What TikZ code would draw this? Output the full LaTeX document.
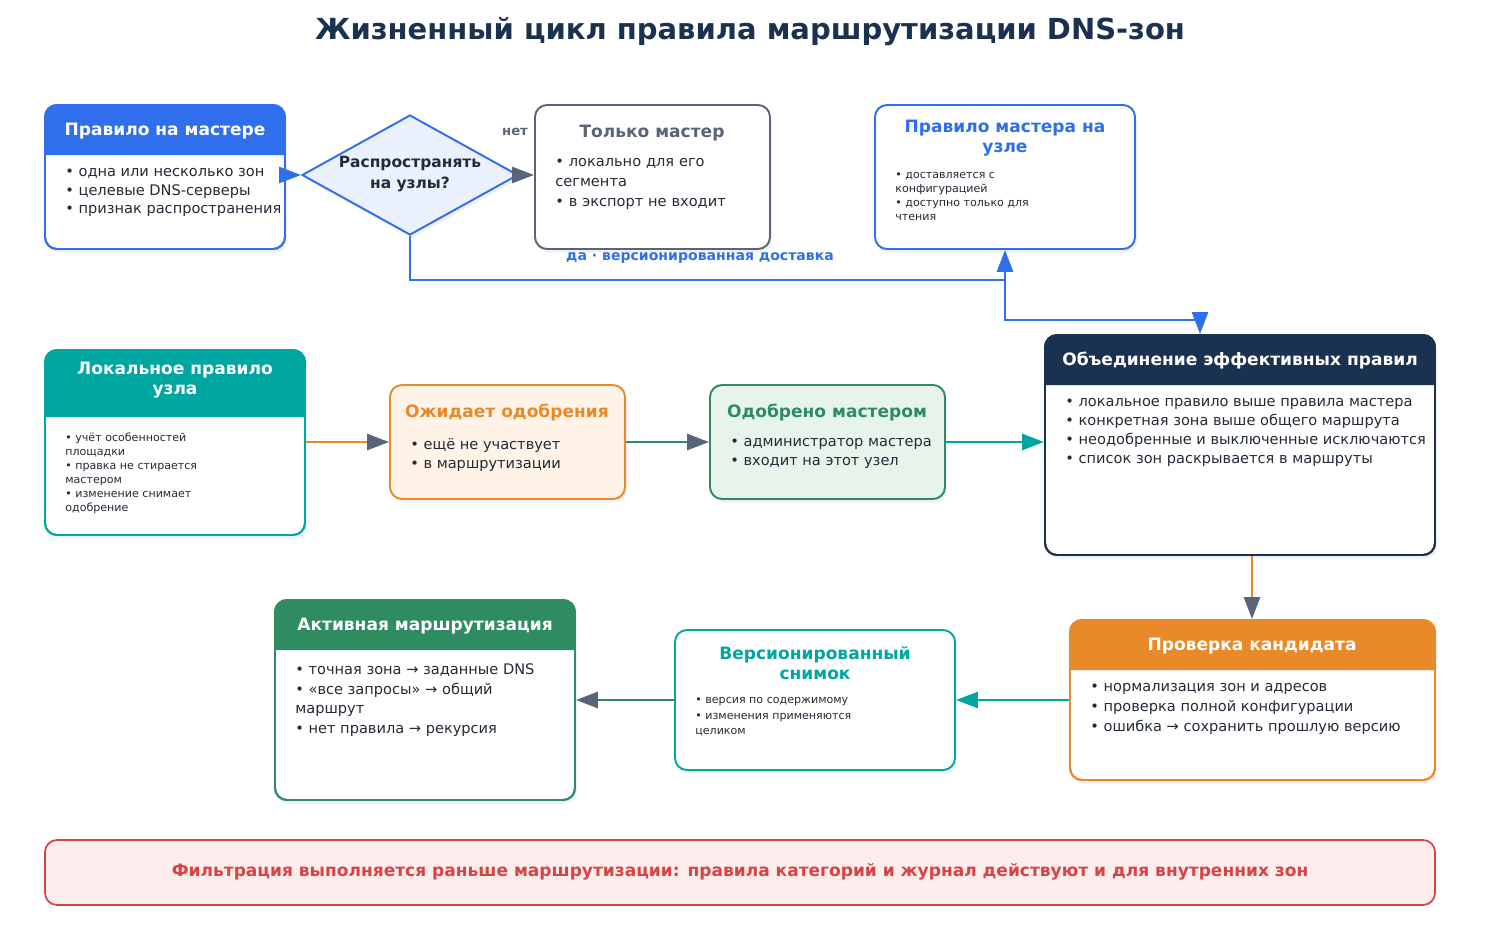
\documentclass[tikz,border=0pt]{standalone}
\usepackage{fontspec}
\setmainfont{DejaVu Sans}
\usetikzlibrary{arrows.meta,shapes.geometric,fit,shadows}
\definecolor{cblue}{HTML}{2F6FEB}
\definecolor{cdiam}{HTML}{EAF1FD}
\definecolor{cgray}{HTML}{5A6478}
\definecolor{cteal}{HTML}{00A6A0}
\definecolor{corange}{HTML}{E8892A}
\definecolor{corfill}{HTML}{FEF3E6}
\definecolor{cgreen}{HTML}{2E8B62}
\definecolor{cgrfill}{HTML}{E7F4EC}
\definecolor{cnavy}{HTML}{1A3150}
\definecolor{cred}{HTML}{D64545}
\definecolor{credfill}{HTML}{FDECEC}
\definecolor{ctext}{HTML}{222B36}
\newcommand\HBox[9]{% name x1 y1 x2 y2 yh color title fill
  \node[bx, draw=#7, fill=#9, fit={(#2,#3)(#4,#5)}] (#1) {};
  \ifx&#6&\else
  \fill[#7] (#2,#6) {[rounded corners=0.24cm] -- (#2,#3) -- (#4,#3)} -- (#4,#6) -- cycle;
  \draw[#7, line width=1.1pt, rounded corners=0.24cm] (#2,#5) rectangle (#4,#3);
  \fi
}
\begin{document}
\begin{tikzpicture}[x=0.02cm,y=-0.02cm,
  bx/.style={inner sep=0, line width=1.1pt, rounded corners=0.24cm,
    drop shadow={opacity=0.12, shadow xshift=0.04cm, shadow yshift=-0.07cm}},
  ht/.style={font=\fontsize{9.7}{11.8}\selectfont\bfseries, align=center},
  body/.style={font=\fontsize{8.3}{10.6}\selectfont, text=ctext, align=left, anchor=north west, inner sep=0},
  sbody/.style={font=\fontsize{6.3}{7.9}\selectfont, text=ctext, align=left, anchor=north west, inner sep=0},
  arr/.style={line width=1.6pt, -{Triangle[length=0.44cm,width=0.32cm]}},
  arrc/.style={line width=1.6pt, -{Triangle[length=0.44cm,width=0.32cm,color=#1]}}]
\useasboundingbox (0,0) rectangle (1500,940);
\node[font=\fontsize{16.5}{20}\selectfont\bfseries, text=cnavy] (title) at (750,32) {Жизненный цикл правила маршрутизации DNS-зон};

% box 1
\HBox{b1}{45}{105}{285}{249}{155}{cblue}{}{white}
\node[ht, text=white] (b1t) at (165,131) {Правило на мастере};
\node[body] (b1b) at (65,168) {• одна или несколько зон\\[-0.05pt]• целевые DNS-серверы\\• признак распространения};

% diamond
\node[diamond, draw=cblue, fill=cdiam, line width=1.1pt, minimum width=216*0.02cm, minimum height=120*0.02cm, inner sep=0,
  drop shadow={opacity=0.12, shadow xshift=0.04cm, shadow yshift=-0.07cm}] (dia) at (410,175) {};
\node[font=\fontsize{8.8}{11.5}\selectfont\bfseries, text=ctext, align=center] (diat) at (410,174) {Распространять\\на узлы?};

% box 3
\HBox{b3}{535}{105}{770}{249}{}{cgray}{}{white}
\node[ht, text=cgray] (b3t) at (652,133) {Только мастер};
\node[body, text width=200*0.02cm, font=\fontsize{8.3}{11.3}\selectfont] (b3b) at (555,158) {• локально для его\\сегмента\\• в экспорт не входит};

% box 4
\HBox{b4}{875}{105}{1135}{249}{}{cblue}{}{white}
\node[ht, text=cblue] (b4t) at (1005,138) {Правило мастера на\\узле};
\node[sbody] (b4b) at (895,172) {• доставляется с\\конфигурацией\\• доступно только для\\чтения};

% box 5
\HBox{b5}{45}{350}{305}{535}{417}{cteal}{}{white}
\node[ht, text=white] (b5t) at (175,380) {Локальное правило\\узла};
\node[sbody] (b5b) at (65,433) {• учёт особенностей\\площадки\\• правка не стирается\\мастером\\• изменение снимает\\одобрение};

% box 6
\HBox{b6}{390}{385}{625}{499}{}{corange}{}{corfill}
\node[ht, text=corange] (b6t) at (507,413) {Ожидает одобрения};
\node[body] (b6b) at (410,438) {• ещё не участвует\\• в маршрутизации};

% box 7
\HBox{b7}{710}{385}{945}{499}{}{cgreen}{}{cgrfill}
\node[ht, text=cgreen] (b7t) at (827,413) {Одобрено мастером};
\node[body] (b7b) at (730,438) {• администратор мастера\\• входит на этот узел};

% box 8
\HBox{b8}{1045}{335}{1435}{555}{385}{cnavy}{}{white}
\node[ht, text=white] (b8t) at (1240,361) {Объединение эффективных правил};
\node[body, font=\fontsize{8.3}{10.8}\selectfont] (b8b) at (1065,398) {• локальное правило выше правила мастера\\• конкретная зона выше общего маршрута\\• неодобренные и выключенные исключаются\\• список зон раскрывается в маршруты};

% box 9
\HBox{b9}{1070}{620}{1435}{780}{670}{corange}{}{white}
\node[ht, text=white] (b9t) at (1252,646) {Проверка кандидата};
\node[body, font=\fontsize{8.3}{11.3}\selectfont] (b9b) at (1090,683) {• нормализация зон и адресов\\• проверка полной конфигурации\\• ошибка → сохранить прошлую версию};

% box 10
\HBox{b10}{675}{630}{955}{770}{}{cteal}{}{white}
\node[ht, text=cteal] (b10t) at (815,663) {Версионированный\\снимок};
\node[sbody, font=\fontsize{6.3}{8.9}\selectfont] (b10b) at (695,697) {• версия по содержимому\\• изменения применяются\\целиком};

% box 11
\HBox{b11}{275}{600}{575}{800}{650}{cgreen}{}{white}
\node[ht, text=white] (b11t) at (425,626) {Активная маршрутизация};
\node[body, font=\fontsize{8.3}{11.3}\selectfont] (b11b) at (295,663) {• точная зона → заданные DNS\\• «все запросы» → общий\\маршрут\\• нет правила → рекурсия};

% banner
\node[draw=cred, fill=credfill, line width=1pt, rounded corners=0.24cm, inner sep=0, fit={(45,840)(1435,905)}] (ban) {};
\node[font=\fontsize{9.7}{12}\selectfont\bfseries, text=cred] (bant) at (740,872) {Фильтрация выполняется раньше маршрутизации: правила категорий и журнал действуют и для внутренних зон};

% connectors
\draw[arr, cblue] (b1.east |- dia) -- (dia.west);
\draw[arr, cgray] (dia.east) -- (b3.west |- dia);
\node[font=\fontsize{7.5}{9}\selectfont\bfseries, text=cgray] (no) at (515,132) {нет};
\coordinate (j1) at (1005,280);
\draw[arr, cblue] (dia.south) |- (j1) -- (b4.south);
\draw[arr, cblue] (j1) -- (1005,320) -| (b8.north -| 1200,0);
\node[font=\fontsize{8}{9}\selectfont\bfseries, text=cblue] (yes) at (700,258) {да · версионированная доставка};
\draw[arrc=cgray, corange] (b5.east |- 0,442) -- (b6.west |- 0,442);
\draw[arrc=cgray, cgreen] (b6.east |- 0,442) -- (b7.west |- 0,442);
\draw[arr, cteal] (b7.east |- 0,442) -- (b8.west |- 0,442);
\draw[arrc=cgray, corange] (b8.south -| 1252,0) -- (b9.north -| 1252,0);
\draw[arr, cteal] (b9.west |- 0,700) -- (b10.east |- 0,700);
\draw[arrc=cgray, cgreen] (b10.west |- 0,700) -- (b11.east |- 0,700);
\end{tikzpicture}
\end{document}
